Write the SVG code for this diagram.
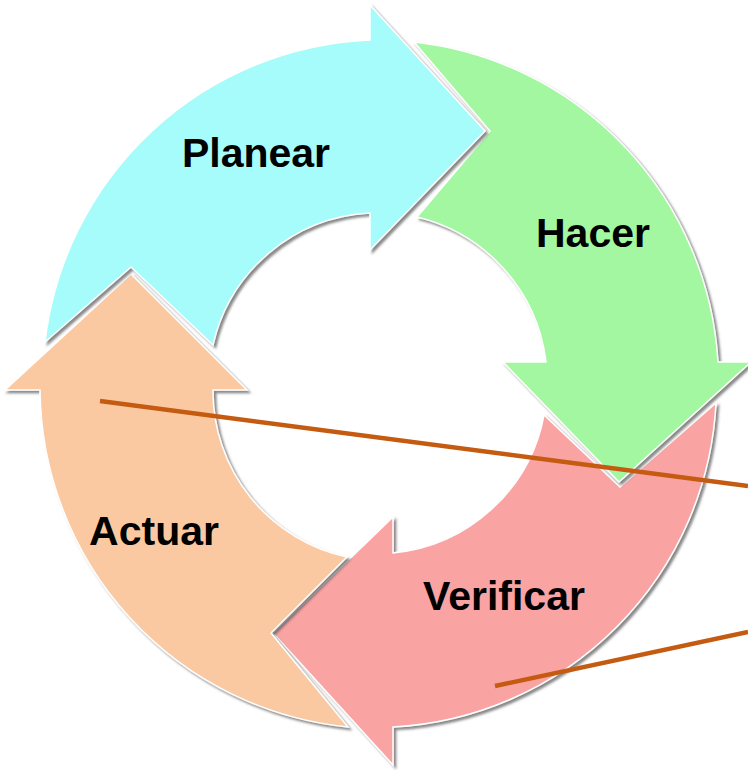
<svg xmlns="http://www.w3.org/2000/svg" width="748" height="770" viewBox="0 0 748 770">
  <defs>
    <filter id="sh" x="-10%" y="-10%" width="120%" height="120%">
      <feDropShadow dx="2.5" dy="2.5" stdDeviation="1.3" flood-color="#4a4a4a" flood-opacity="0.65"/>
    </filter>
  </defs>
  <style>
    .arrow { stroke: #ffffff; stroke-width: 1.5; stroke-linejoin: miter; filter: url(#sh); }
    .lbl { font-family: "Liberation Sans", Arial, sans-serif; font-weight: bold; font-size: 41px; fill: #000000; text-anchor: middle; }
    .conn { stroke: #C55A11; stroke-width: 4.5; fill: none; stroke-linecap: butt; }
  </style>
  <rect width="748" height="770" fill="#ffffff"/>

  <g id="node-verificar">
    <path class="arrow" fill="#F9A3A3" d="M716,403 A342,342 0 0 1 393,727 L393,765 L273,633 L393,517 L393,553 A170,170 0 0 0 544,415 L620,487 Z"/>
    <text class="lbl" x="504" y="610">Verificar</text>
  </g>

  <g id="node-hacer">
    <path class="arrow" fill="#A3F7A0" d="M414,42 A342,342 0 0 1 718,362 L751,362 L619,482 L503,362 L546,362 A170,170 0 0 0 417,217 L490,131 Z"/>
    <text class="lbl" x="593" y="247">Hacer</text>
  </g>

  <g id="node-actuar">
    <path class="arrow" fill="#FBC9A1" d="M348,727 A342,342 0 0 1 40,390 L5,390 L131,274 L247,390 L213,390 A170,170 0 0 0 347,557 L271,633 Z"/>
    <text class="lbl" x="154" y="545">Actuar</text>
  </g>

  <g id="node-planear">
    <path class="arrow" fill="#A6FBFB" d="M45,342 A342,342 0 0 1 370,40 L370,5 L485,131 L370,250 L370,213 A170,170 0 0 0 213,345 L131,267 Z"/>
    <text class="lbl" x="256" y="167">Planear</text>
  </g>

  <g id="connectors">
    <line class="conn" x1="100" y1="401" x2="748" y2="486"/>
    <line class="conn" x1="495" y1="686" x2="748" y2="632"/>
  </g>
</svg>
